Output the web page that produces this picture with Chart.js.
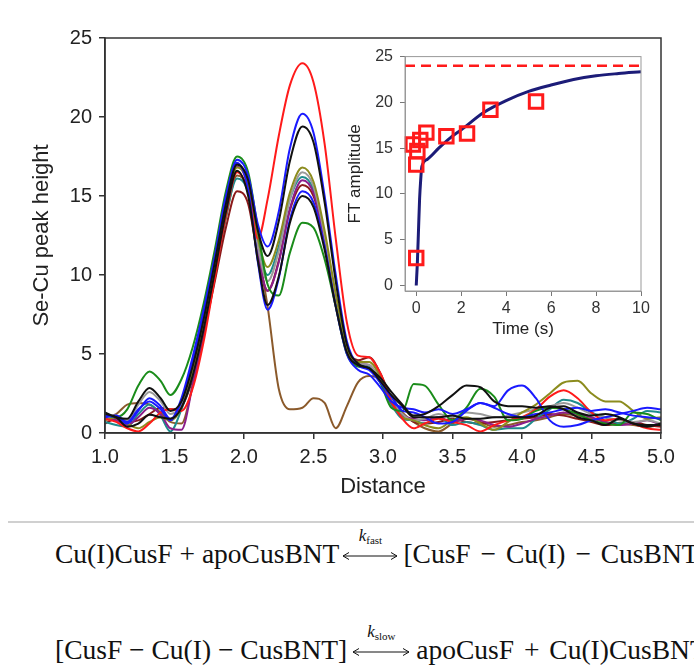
<!DOCTYPE html>
<html>
<head>
<meta charset="utf-8">
<script src="https://cdn.jsdelivr.net/npm/chart.js@4.4.1/dist/chart.umd.min.js"></script>
<style>
html, body { margin: 0; padding: 0; background: #fff; width: 694px; height: 668px; overflow: hidden; position: relative; }
#main { position: absolute; left: 0; top: 0; }
#inset { position: absolute; left: 340px; top: 40px; }
.rule { position: absolute; left: 8px; right: 0; top: 521px; height: 2px; background: #d0d0d0; }
.eq { position: absolute; left: 55px; white-space: nowrap; font-family: "Liberation Serif", serif; font-size: 27.5px; line-height: 32px; color: #111; }
.arr { display: inline-block; position: relative; width: 58px; height: 28px; vertical-align: -5px; margin: 0 2px; }
.arr.wide { width: 60px; margin: 0 5px 0 4px; }
.arr svg { position: absolute; left: 0; top: 11px; }
.k { position: absolute; left: 0; right: 0; top: -13px; text-align: center; font-size: 17px; line-height: 17px; }
.k sub { font-size: 11px; vertical-align: -3px; }
.op { margin: 0 3px; }
</style>
</head>
<body>
<canvas id="main" width="694" height="510"></canvas>
<canvas id="inset" width="320" height="310"></canvas>
<div class="rule"></div>
<div class="eq" style="top:538px">Cu(I)CusF + apoCusBNT<span class="arr" style="margin-right:4px"><span class="k"><i>k</i><sub>fast</sub></span><svg width="58" height="10"><line x1="2" y1="5" x2="56" y2="5" stroke="#111" stroke-width="1"/><polyline points="8,1.5 2,5 8,8.5" fill="none" stroke="#111" stroke-width="1"/><polyline points="50,1.5 56,5 50,8.5" fill="none" stroke="#111" stroke-width="1"/></svg></span>[CusF <span class="op">−</span> Cu(I) <span class="op">−</span> CusBNT]</div>
<div class="eq" style="top:634px">[CusF − Cu(I) − CusBNT]<span class="arr wide"><span class="k"><i>k</i><sub>slow</sub></span><svg width="60" height="10"><line x1="2" y1="5" x2="58" y2="5" stroke="#111" stroke-width="1"/><polyline points="8,1.5 2,5 8,8.5" fill="none" stroke="#111" stroke-width="1"/><polyline points="52,1.5 58,5 52,8.5" fill="none" stroke="#111" stroke-width="1"/></svg></span>apoCusF <span class="op">+</span> Cu(I)CusBNT</div>
<script>
// main panel: Se-Cu Fourier transform traces
const distance = [1.0, 1.08, 1.16, 1.24, 1.32, 1.4, 1.47, 1.55, 1.63, 1.71, 1.79, 1.87,
  1.95, 2.03, 2.1, 2.17, 2.25, 2.33, 2.42, 2.5, 2.58, 2.66, 2.74, 2.82, 2.9,
  2.98, 3.06, 3.14, 3.22, 3.3, 3.4, 3.5, 3.6, 3.7, 3.8, 3.9, 4.0, 4.1, 4.2, 4.3, 4.4, 4.5, 4.6, 4.7, 4.8, 4.9, 5.0];
const distanceTicks = [1.0, 1.5, 2.0, 2.5, 3.0, 3.5, 4.0, 4.5, 5.0];
const peakTicks = [0, 5, 10, 15, 20, 25];

const traceBlack1 = [1.3, 1.0, 0.9, 2.0, 2.85, 2.2, 1.4, 2.0, 4.2, 7.2, 10.8, 14.5,
  17.0, 16.0, 12.8, 11.2, 13.4, 17.2, 19.4, 18.4, 14.6, 9.6, 5.6, 4.4, 4.1,
  3.5, 2.6, 1.8, 1.1, 1.2, 1.7, 2.4, 3.0, 2.9, 2.0, 1.7, 1.7, 1.6, 1.7, 1.5, 1.0, 0.8, 0.5, 0.9, 0.6, 0.5, 0.5];
const traceBlack2 = [1.2, 1.0, 0.4, 0.6, 1.15, 1.0, 0.9, 1.6, 3.6, 6.6, 10.2, 14.0,
  16.6, 15.0, 10.9, 8.1, 9.9, 13.3, 15.0, 14.3, 11.6, 8.0, 5.1, 4.3, 4.1,
  3.3, 2.4, 1.7, 1.0, 1.0, 1.0, 1.1, 0.9, 0.9, 1.0, 1.0, 1.0, 1.1, 1.6, 1.7, 1.3, 1.1, 1.2, 1.0, 0.6, 0.4, 0.6];
const traceBlue1 = [1.1, 1.0, 0.6, 1.4, 2.2, 1.7, 0.9, 2.0, 4.5, 7.5, 11.0, 14.8,
  17.3, 16.3, 13.2, 11.8, 14.0, 18.0, 20.2, 19.0, 15.0, 10.0, 5.8, 4.3, 4.0,
  3.2, 2.3, 1.4, 1.3, 1.0, 0.6, 0.7, 1.4, 1.9, 1.7, 2.7, 3.0, 2.2, 0.8, 0.4, 0.5, 0.8, 1.0, 1.2, 1.4, 1.6, 1.5];
const traceBlue2 = [1.0, 1.1, 0.7, 1.5, 2.0, 1.5, 0.8, 2.2, 4.8, 7.8, 11.2, 15.0,
  17.1, 15.4, 10.8, 7.8, 9.8, 13.5, 15.3, 14.6, 11.8, 8.0, 5.0, 4.0, 3.7,
  2.9, 2.0, 1.6, 1.5, 1.3, 1.5, 1.2, 1.5, 1.9, 1.6, 1.2, 1.0, 1.2, 1.3, 1.5, 1.6, 1.4, 1.5, 1.3, 1.1, 1.0, 0.9];
const traceGreen = [1.1, 1.0, 1.5, 3.0, 3.9, 3.3, 2.4, 3.4, 5.4, 8.2, 11.6, 15.3,
  17.5, 16.5, 12.9, 9.4, 8.7, 11.4, 13.3, 13.0, 11.0, 8.0, 5.0, 4.2, 4.1,
  3.2, 1.6, 1.4, 3.1, 3.0, 1.8, 0.8, 1.6, 2.8, 2.3, 0.8, 0.9, 1.4, 1.6, 1.5, 1.2, 0.8, 0.6, 0.5, 1.3, 1.2, 0.8];
const traceRed = [0.9, 0.7, 0.3, 0.1, 0.6, 1.3, 1.5, 1.4, 2.8, 5.8, 9.8, 13.8,
  16.5, 15.3, 12.3, 14.8, 18.8, 22.0, 23.4, 22.2, 18.3, 12.3, 7.0, 4.9, 4.8,
  3.8, 2.0, 0.9, 0.3, 0.6, 0.9, 0.7, 0.5, 0.1, 0.5, 0.8, 1.0, 1.5, 2.3, 2.7, 2.2, 1.3, 0.8, 0.9, 0.6, 0.3, 0.2];
const traceOlive = [0.8, 1.0, 0.6, 0.3, 0.7, 1.0, 0.8, 1.6, 3.8, 6.8, 10.3, 14.2,
  16.8, 15.8, 12.3, 10.5, 12.2, 15.2, 16.8, 15.9, 12.8, 8.8, 5.4, 4.5, 4.5,
  3.6, 2.0, 1.0, 0.8, 0.5, 0.3, 0.8, 1.0, 0.6, 0.2, 0.7, 1.3, 1.8, 2.5, 3.2, 3.3, 2.5, 2.0, 2.0, 1.4, 0.9, 1.0];
const traceGray = [1.0, 1.1, 0.8, 1.8, 2.6, 2.0, 1.2, 1.8, 4.0, 7.0, 10.5, 14.4,
  17.0, 15.7, 11.8, 9.6, 11.5, 14.8, 16.5, 15.6, 12.5, 8.6, 5.3, 4.4, 4.3,
  3.4, 2.2, 1.2, 0.8, 0.9, 1.2, 1.0, 1.3, 1.2, 1.0, 1.1, 1.3, 1.5, 1.7, 1.9, 1.6, 1.2, 1.0, 0.8, 0.7, 0.8, 0.6];
const tracePurple = [0.9, 0.8, 0.5, 1.0, 1.6, 1.2, 0.3, 0.2, 3.0, 6.5, 10.2, 14.2,
  16.9, 15.5, 11.4, 9.0, 10.8, 14.2, 16.0, 15.2, 12.2, 8.4, 5.2, 4.4, 4.3,
  3.3, 1.9, 1.1, 0.9, 0.8, 1.0, 0.7, 0.9, 0.8, 0.5, 0.4, 0.6, 0.9, 1.1, 1.3, 1.2, 1.0, 0.7, 0.5, 0.6, 0.8, 0.5];
const traceTeal = [0.7, 0.5, 0.4, 1.2, 1.8, 1.1, 0.1, 1.5, 3.6, 6.6, 10.0, 13.7,
  16.1, 15.2, 11.8, 10.0, 11.8, 14.8, 16.2, 15.4, 12.4, 8.5, 5.2, 4.3, 4.2,
  3.2, 1.8, 0.9, 0.8, 0.6, 1.0, 0.5, 0.7, 0.5, 0.2, 0.3, 0.3, 0.9, 1.5, 2.1, 1.9, 1.3, 1.0, 0.6, 0.9, 1.4, 1.3];
const traceMaroon = [0.6, 0.9, 0.7, 0.8, 1.2, 1.6, 1.5, 1.7, 3.4, 6.3, 9.6, 13.0,
  15.3, 14.5, 11.2, 9.0, 10.9, 14.1, 15.7, 15.0, 12.3, 8.6, 5.4, 4.6, 4.8,
  3.8, 2.2, 1.2, 0.7, 0.6, 0.7, 0.9, 0.7, 0.6, 0.7, 0.8, 0.9, 1.0, 1.2, 1.1, 0.9, 0.7, 0.5, 0.6, 0.7, 0.5, 0.4];
const traceBrown = [1.0, 1.2, 1.8, 1.9, 1.8, 1.3, 0.7, 0.6, 3.0, 6.2, 9.8, 13.6,
  16.3, 15.3, 11.5, 8.0, 2.8, 1.5, 1.6, 2.2, 1.9, 0.3, 1.7, 3.2, 3.6,
  3.4, 2.3, 1.3, 0.7, 0.3, 0.1, 0.6, 0.9, 0.7, 0.4, 0.5, 0.7, 0.8, 1.0, 1.2, 1.1, 0.9, 0.7, 0.6, 0.5, 0.4, 0.5];

// inset: kinetics
const kinTime = [0, 0, 0.05, -0.15, 0.18, 0.45, 1.34, 2.26, 3.3, 5.33];
const kinAmp = [3.0, 13.2, 14.7, 15.4, 15.9, 16.7, 16.3, 16.6, 19.2, 20.1];
const fitTime = [0, 0.05, 0.1, 0.15, 0.2, 0.25, 0.5, 1, 1.5, 2, 3, 4, 5, 6, 7, 8, 9, 10];
const fitAmp = [0, 2.5, 6.0, 9.5, 11.6, 13.0, 13.8, 15.0, 16.1, 17.0, 18.9, 20.2, 21.2, 21.9, 22.5, 22.9, 23.15, 23.35];
const plateauTime = [-0.5, 10];
const plateauAmp = [24, 24];
const timeTicks = [0, 2, 4, 6, 8, 10];
const ampTicks = [0, 5, 10, 15, 20, 25];

function pts(xs, ys) {
  return xs.map((x, i) => ({ x: x, y: ys[i] }));
}

function frameBox(color, width) {
  return {
    id: 'frameBox',
    afterDraw(chart) {
      const a = chart.chartArea, ctx = chart.ctx;
      ctx.save();
      ctx.strokeStyle = color;
      ctx.lineWidth = width;
      ctx.strokeRect(a.left, a.top, a.right - a.left, a.bottom - a.top);
      ctx.restore();
    }
  };
}

const traces = [
  [traceBlack1, '#111111'],
  [traceBlack2, '#111111'],
  [traceBlue1, '#1a1aff'],
  [traceBlue2, '#1a1aff'],
  [traceGreen, '#1a8c1a'],
  [traceRed, '#ff1a1a'],
  [traceOlive, '#8c8c1e'],
  [traceGray, '#9a9a9a'],
  [tracePurple, '#8b1e8b'],
  [traceTeal, '#1e8c8c'],
  [traceMaroon, '#8b1a1a'],
  [traceBrown, '#8b5a2b']
];

const sans = 'Liberation Sans';

new Chart(document.getElementById('main'), {
  type: 'line',
  data: {
    datasets: traces.map(t => ({
      data: pts(distance, t[0]),
      borderColor: t[1],
      borderWidth: 2,
      pointRadius: 0,
      fill: false,
      cubicInterpolationMode: 'monotone'
    }))
  },
  options: {
    responsive: false,
    animation: false,
    layout: { padding: { top: 38, right: 33, left: 0, bottom: 0 } },
    plugins: { legend: { display: false }, tooltip: { enabled: false } },
    scales: {
      x: {
        type: 'linear', min: 1, max: 5,
        afterFit: s => { s.height = 77; },
        afterBuildTicks: s => { s.ticks = distanceTicks.map(v => ({ value: v })); },
        ticks: { callback: v => v.toFixed(1), font: { family: sans, size: 20 }, color: '#222', padding: 6, maxRotation: 0 },
        grid: { drawOnChartArea: false, tickLength: 6, color: '#333', lineWidth: 1.5 },
        border: { color: '#333', width: 1.5 },
        title: { display: true, text: 'Distance', font: { family: sans, size: 22 }, color: '#222', padding: { top: 0, bottom: 10 } }
      },
      y: {
        min: 0, max: 25,
        afterFit: s => { s.width = 105; },
        afterBuildTicks: s => { s.ticks = peakTicks.map(v => ({ value: v })); },
        ticks: { font: { family: sans, size: 20 }, color: '#222', padding: 7 },
        grid: { drawOnChartArea: false, tickLength: 6, color: '#333', lineWidth: 1.5 },
        border: { color: '#333', width: 1.5 },
        title: { display: true, text: 'Se-Cu peak height', font: { family: sans, size: 22 }, color: '#222', padding: { top: 29, bottom: 0 } }
      }
    }
  },
  plugins: [frameBox('#333', 1.5)]
});

new Chart(document.getElementById('inset'), {
  type: 'scatter',
  data: {
    datasets: [
      { data: pts(kinTime, kinAmp), showLine: false, pointStyle: 'rect', pointRadius: 9.5,
        borderColor: '#ff1a1a', backgroundColor: 'rgba(0,0,0,0)', borderWidth: 3, clip: false },
      { data: pts(fitTime, fitAmp), showLine: true, pointRadius: 0, borderColor: '#1c1c78',
        borderWidth: 3, cubicInterpolationMode: 'monotone' },
      { data: pts(plateauTime, plateauAmp), showLine: true, pointRadius: 0, borderColor: '#ff1a1a',
        borderWidth: 2.5, borderDash: [10, 6] }
    ]
  },
  options: {
    responsive: false,
    animation: false,
    layout: { padding: { top: 15, right: 19, left: 0, bottom: 0 } },
    plugins: { legend: { display: false }, tooltip: { enabled: false } },
    scales: {
      x: {
        type: 'linear', min: -0.5, max: 10,
        afterFit: s => { s.height = 59; },
        afterBuildTicks: s => { s.ticks = timeTicks.map(v => ({ value: v })); },
        ticks: { font: { family: sans, size: 16 }, color: '#333', padding: 3, maxRotation: 0 },
        grid: { drawOnChartArea: false, tickLength: 5, color: '#777' },
        border: { color: '#999', width: 1 },
        title: { display: true, text: 'Time (s)', font: { family: sans, size: 17 }, color: '#222', padding: { top: 0, bottom: 10 } }
      },
      y: {
        min: -0.6, max: 25,
        afterFit: s => { s.width = 65; },
        afterBuildTicks: s => { s.ticks = ampTicks.map(v => ({ value: v })); },
        ticks: { font: { family: sans, size: 16 }, color: '#333', padding: 7 },
        grid: { drawOnChartArea: false, tickLength: 5, color: '#777' },
        border: { color: '#999', width: 1 },
        title: { display: true, text: 'FT amplitude', font: { family: sans, size: 17 }, color: '#222', padding: { top: 5, bottom: 0 } }
      }
    }
  },
  plugins: [frameBox('#999', 1)]
});
</script>
</body>
</html>
